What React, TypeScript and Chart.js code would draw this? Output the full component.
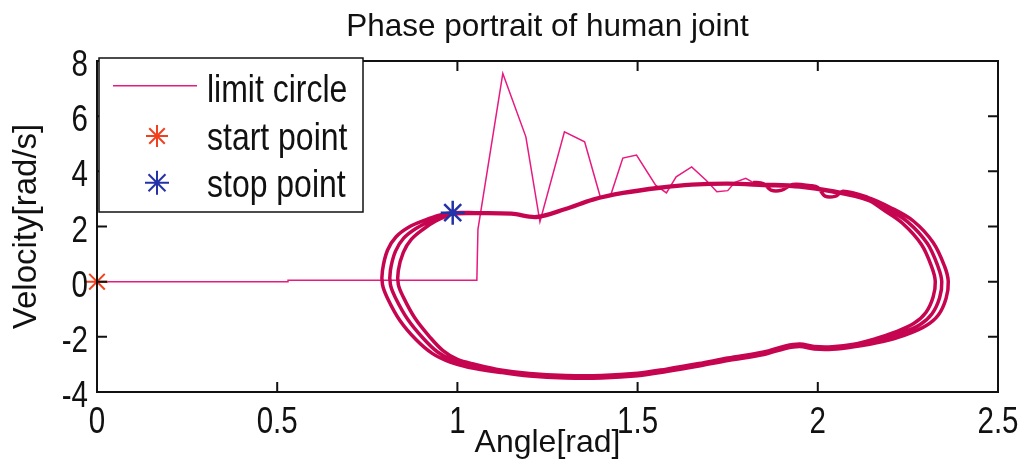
import { useEffect, useRef } from 'react';
import { Chart, registerables } from 'chart.js';

Chart.register(...registerables);

const TITLE = 'Phase portrait of human joint';
const X_TITLE = 'Angle[rad]';
const Y_TITLE = 'Velocity[rad/s]';
const X_TICKS = [0, 0.5, 1, 1.5, 2, 2.5];
const Y_TICKS = [-4, -2, 0, 2, 4, 6, 8];
const SERIES_LABELS = ['limit circle', 'start point', 'stop point'];

type Pt = [number, number];

const START_POINT: Pt[] = [[0, 0]];
const STOP_POINT: Pt[] = [[0.987, 2.5]];

// Joint at rest, released, then decaying overshoots before it settles on the cycle
const TRANSIENT: Pt[] = [
  [0, 0], [0.53, 0], [0.53, 0.05], [1.054, 0.05], [1.057, 1.9], [1.126, 7.55],
  [1.19, 5.25], [1.229, 2.17], [1.297, 5.43], [1.353, 5.07], [1.397, 3.05],
  [1.425, 3.12], [1.459, 4.48], [1.497, 4.59], [1.55, 3.5], [1.58, 3.22],
  [1.607, 3.8], [1.65, 4.16], [1.69, 3.68], [1.72, 3.26], [1.75, 3.3],
  [1.77, 3.6], [1.8, 3.75], [1.82, 3.6],
];

// Three laps around the limit cycle (clockwise), drifting slightly inward
const LAP_1: Pt[] = [
  [1.82, 3.6], [1.85, 3.55], [1.87, 3.32], [1.9, 3.32], [1.93, 3.52], [1.98, 3.48],
  [2.0, 3.42], [2.02, 3.1], [2.05, 3.1], [2.07, 3.28], [2.14, 3.05], [2.2, 2.7],
  [2.265, 2.2], [2.32, 1.42], [2.352, 0.55], [2.362, 0.0], [2.356, -0.6],
  [2.335, -1.2], [2.3, -1.6], [2.24, -1.95], [2.18, -2.17], [2.1, -2.36],
  [2.04, -2.45], [1.99, -2.44], [1.95, -2.35], [1.91, -2.42], [1.85, -2.64],
  [1.75, -2.86], [1.67, -3.06], [1.58, -3.26], [1.5, -3.41], [1.4, -3.49],
  [1.3, -3.49], [1.2, -3.42], [1.12, -3.29], [1.03, -3.1], [0.98, -2.92],
  [0.93, -2.6], [0.885, -2.1], [0.84, -1.4], [0.806, -0.6], [0.792, -0.1],
  [0.792, 0.4], [0.806, 1.14], [0.83, 1.63], [0.867, 1.99], [0.91, 2.23],
  [0.95, 2.41], [0.987, 2.5], [1.05, 2.5], [1.15, 2.48], [1.22, 2.36],
  [1.3, 2.65], [1.376, 2.99], [1.46, 3.23], [1.562, 3.42], [1.65, 3.53],
  [1.75, 3.57],
];
const LAP_2: Pt[] = [
  [1.85, 3.53], [1.95, 3.47], [2.04, 3.3], [2.14, 3.0], [2.19, 2.66],
  [2.25, 2.16], [2.304, 1.38], [2.334, 0.53], [2.344, 0.0], [2.338, -0.58],
  [2.317, -1.16], [2.283, -1.56], [2.225, -1.9], [2.17, -2.12], [2.1, -2.31],
  [2.04, -2.4], [1.99, -2.39], [1.95, -2.3], [1.91, -2.37], [1.85, -2.59],
  [1.75, -2.81], [1.67, -3.01], [1.58, -3.21], [1.5, -3.36], [1.4, -3.44],
  [1.3, -3.44], [1.2, -3.37], [1.12, -3.24], [1.04, -3.05], [0.99, -2.87],
  [0.945, -2.55], [0.905, -2.05], [0.862, -1.36], [0.828, -0.58], [0.814, -0.1],
  [0.814, 0.4], [0.828, 1.1], [0.851, 1.58], [0.886, 1.94], [0.925, 2.19],
  [0.962, 2.38], [0.995, 2.46], [1.05, 2.47], [1.15, 2.45], [1.22, 2.33],
  [1.3, 2.62], [1.376, 2.96], [1.46, 3.2], [1.562, 3.39], [1.65, 3.5],
  [1.75, 3.54],
];
const LAP_3: Pt[] = [
  [1.85, 3.49], [1.95, 3.43], [2.04, 3.26], [2.14, 2.95], [2.18, 2.62],
  [2.235, 2.12], [2.288, 1.34], [2.317, 0.5], [2.326, 0.0], [2.32, -0.56],
  [2.3, -1.12], [2.266, -1.52], [2.21, -1.85], [2.16, -2.07], [2.1, -2.27],
  [2.04, -2.36], [1.99, -2.35], [1.95, -2.26], [1.91, -2.33], [1.85, -2.55],
  [1.75, -2.77], [1.67, -2.97], [1.58, -3.17], [1.5, -3.32], [1.4, -3.4],
  [1.3, -3.4], [1.2, -3.33], [1.12, -3.2], [1.05, -3.0], [1.0, -2.82],
  [0.96, -2.5], [0.923, -2.0], [0.882, -1.32], [0.85, -0.56], [0.836, -0.1],
  [0.836, 0.4], [0.85, 1.06], [0.872, 1.53], [0.905, 1.9], [0.94, 2.2],
  [0.987, 2.47],
];

const SANS = "'Liberation Sans', Arial, Helvetica, sans-serif";
const INK = '#111111';
const TRANSIENT_COLOR = '#e8197f';
const CYCLE_COLOR = '#c60550';
const START_COLOR = '#f2401f';
const STOP_COLOR = '#2432a8';
// tick and legend lettering is a tall, narrow face: squeeze the regular sans
const NARROW_RATIO = 0.82;

const toXY = (pts: Pt[]) => pts.map(([x, y]) => ({ x, y }));

function narrowText(ctx: CanvasRenderingContext2D, text: string, x: number, y: number) {
  const w = ctx.measureText(text).width * NARROW_RATIO;
  ctx.fillText(text, x, y, w);
}

function drawStar(ctx: CanvasRenderingContext2D, cx: number, cy: number, r: number, color: string) {
  ctx.save();
  ctx.strokeStyle = color;
  ctx.lineWidth = 2;
  ctx.beginPath();
  for (let k = 0; k < 4; k++) {
    const a = (k * Math.PI) / 4;
    ctx.moveTo(cx - r * Math.cos(a), cy - r * Math.sin(a));
    ctx.lineTo(cx + r * Math.cos(a), cy + r * Math.sin(a));
  }
  ctx.stroke();
  ctx.restore();
}

// Box frame with inward tick marks on all four sides, tick labels, and the boxed legend
const framePlugin = {
  id: 'frameAndLegend',
  afterDraw(chart: any) {
    const { ctx, chartArea: a, scales } = chart;
    const xs = scales.x;
    const ys = scales.y;
    const tick = 10;
    ctx.save();
    ctx.strokeStyle = INK;
    ctx.lineWidth = 2;
    ctx.strokeRect(a.left, a.top, a.right - a.left, a.bottom - a.top);
    ctx.beginPath();
    X_TICKS.forEach((v) => {
      const px = xs.getPixelForValue(v);
      ctx.moveTo(px, a.bottom);
      ctx.lineTo(px, a.bottom - tick);
      ctx.moveTo(px, a.top);
      ctx.lineTo(px, a.top + tick);
    });
    Y_TICKS.forEach((v) => {
      const py = ys.getPixelForValue(v);
      ctx.moveTo(a.left, py);
      ctx.lineTo(a.left + tick, py);
      ctx.moveTo(a.right, py);
      ctx.lineTo(a.right - tick, py);
    });
    ctx.stroke();

    // tick labels
    ctx.fillStyle = INK;
    ctx.font = `36px ${SANS}`;
    ctx.textBaseline = 'alphabetic';
    ctx.textAlign = 'center';
    X_TICKS.forEach((v) => narrowText(ctx, String(v), xs.getPixelForValue(v), a.bottom + 41));
    ctx.textAlign = 'right';
    Y_TICKS.forEach((v) => narrowText(ctx, String(v), a.left - 9, ys.getPixelForValue(v) + 15));

    // legend
    const box = { left: a.left + 2, top: a.top - 3, width: 264, height: 154 };
    ctx.fillStyle = '#ffffff';
    ctx.fillRect(box.left, box.top, box.width, box.height);
    ctx.lineWidth = 1.5;
    ctx.strokeStyle = INK;
    ctx.strokeRect(box.left, box.top, box.width, box.height);

    const rows = [
      { mark: 27.7, text: 43.7 },
      { mark: 78, text: 92 },
      { mark: 124.7, text: 138.7 },
    ];
    ctx.font = `39px ${SANS}`;
    ctx.textAlign = 'left';
    SERIES_LABELS.forEach((label, i) => {
      const ds = chart.data.datasets.find((d: any) => d.label === label);
      if (!ds) return;
      const r = rows[i];
      if (ds.showLine) {
        ctx.strokeStyle = ds.borderColor;
        ctx.lineWidth = ds.borderWidth;
        ctx.beginPath();
        ctx.moveTo(box.left + 14, box.top + r.mark);
        ctx.lineTo(box.left + 98, box.top + r.mark);
        ctx.stroke();
      } else {
        drawStar(ctx, box.left + 58, box.top + r.mark, ds.pointRadius, ds.borderColor);
      }
      ctx.fillStyle = INK;
      narrowText(ctx, label, box.left + 108, box.top + r.text);
    });
    ctx.restore();
  },
};

export default function App() {
  const ref = useRef<HTMLCanvasElement | null>(null);

  useEffect(() => {
    if (!ref.current) return;
    const chart = new Chart(ref.current, {
      type: 'scatter',
      data: {
        datasets: [
          {
            label: SERIES_LABELS[1],
            data: toXY(START_POINT),
            pointStyle: 'star',
            pointRadius: 11,
            borderColor: START_COLOR,
            backgroundColor: START_COLOR,
            pointBorderWidth: 2,
            showLine: false,
            clip: false,
            order: 0,
          } as any,
          {
            label: SERIES_LABELS[2],
            data: toXY(STOP_POINT),
            pointStyle: 'star',
            pointRadius: 12,
            borderColor: STOP_COLOR,
            backgroundColor: STOP_COLOR,
            pointBorderWidth: 2.5,
            showLine: false,
            clip: false,
            order: 0,
          } as any,
          {
            label: '',
            data: toXY([...LAP_1, ...LAP_2, ...LAP_3]),
            showLine: true,
            borderColor: CYCLE_COLOR,
            borderWidth: 3.5,
            pointRadius: 0,
            tension: 0.35,
            order: 1,
          },
          {
            label: SERIES_LABELS[0],
            data: toXY(TRANSIENT),
            showLine: true,
            borderColor: TRANSIENT_COLOR,
            borderWidth: 1.5,
            pointRadius: 0,
            tension: 0,
            order: 2,
          },
        ],
      },
      options: {
        responsive: false,
        maintainAspectRatio: false,
        animation: false,
        events: [],
        layout: { padding: { left: 0, right: 31, top: 0, bottom: 0 } },
        plugins: {
          legend: { display: false },
          tooltip: { enabled: false },
          title: {
            display: true,
            text: TITLE,
            fullSize: false,
            color: INK,
            font: { family: SANS, size: 31.5, weight: 'normal', lineHeight: 1.2 },
            padding: { top: 8, bottom: 15.2 },
          },
        },
        scales: {
          x: {
            type: 'linear',
            min: 0,
            max: 2.5,
            afterBuildTicks: (s: any) => {
              s.ticks = X_TICKS.map((value) => ({ value }));
            },
            afterFit: (s: any) => {
              s.height = 73;
            },
            grid: { display: false, drawTicks: false },
            border: { display: false },
            ticks: { display: false },
            title: {
              display: true,
              text: X_TITLE,
              color: INK,
              font: { family: SANS, size: 32, lineHeight: 1.2 },
              padding: { top: 0, bottom: 2.9 },
            },
          },
          y: {
            type: 'linear',
            min: -4,
            max: 8,
            afterBuildTicks: (s: any) => {
              s.ticks = Y_TICKS.map((value) => ({ value }));
            },
            afterFit: (s: any) => {
              s.width = 97;
            },
            grid: { display: false, drawTicks: false },
            border: { display: false },
            ticks: { display: false },
            title: {
              display: true,
              text: Y_TITLE,
              color: INK,
              font: { family: SANS, size: 33, lineHeight: 1.2 },
              padding: { top: 7.3, bottom: 0 },
            },
          },
        },
      },
      plugins: [framePlugin],
    });
    return () => chart.destroy();
  }, []);

  return (
    <div style={{ position: 'fixed', left: 0, top: 0, width: 1029, height: 465, background: '#ffffff' }}>
      <canvas ref={ref} width={1029} height={465} style={{ display: 'block' }} />
    </div>
  );
}
